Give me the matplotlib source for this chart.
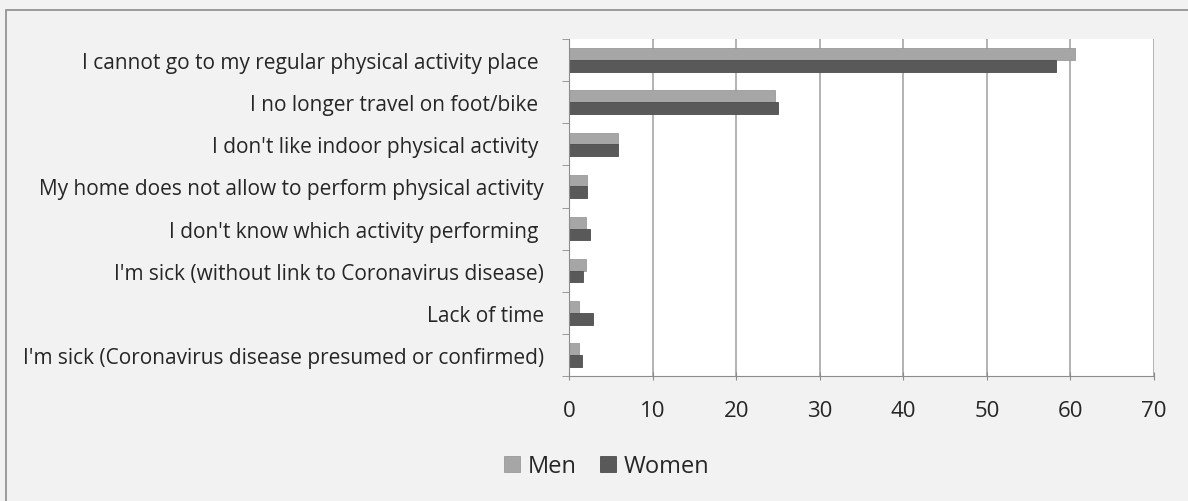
import matplotlib
matplotlib.use("Agg")
import matplotlib.pyplot as plt
import numpy as np
from matplotlib.patches import Rectangle

categories = [
    "I cannot go to my regular physical activity place ",
    "I no longer travel on foot/bike ",
    "I don't like indoor physical activity ",
    "My home does not allow to perform physical activity",
    "I don't know which activity performing ",
    "I'm sick (without link to Coronavirus disease)",
    "Lack of time",
    "I'm sick (Coronavirus disease presumed or confirmed)",
]
men = [60.6, 24.7, 5.9, 2.2, 2.0, 2.05, 1.25, 1.25]
women = [58.3, 25.0, 5.9, 2.2, 2.5, 1.7, 2.9, 1.6]
xticks = [0, 10, 20, 30, 40, 50, 60, 70]

plt.rcParams['font.family'] = ['Open Sans', 'DejaVu Sans']

fig = plt.figure(figsize=(11.88, 5.02), dpi=100)
fig.patch.set_facecolor('#f2f2f2')
fig.patches.append(Rectangle((6/1188, -0.05), 1.2, 1 - 11/502 + 0.05,
                             transform=fig.transFigure, fill=False,
                             edgecolor='#8c8c8c', linewidth=1.2))

ax = fig.add_axes([569/1188, 1 - 377/502, (1154 - 569)/1188, (377 - 40)/502])
ax.set_facecolor('white')

n = len(categories)
y = np.arange(n)
h = 0.28
ax.barh(y - h/2, men, height=h, color='#a6a6a6', edgecolor='#9a9a9a', linewidth=0.6, label='Men', zorder=3)
ax.barh(y + h/2, women, height=h, color='#595959', edgecolor='#4d4d4d', linewidth=0.6, label='Women', zorder=3)

ax.set_ylim(n - 0.5, -0.5)
ax.set_xlim(0, 70)
ax.set_xticks(xticks)
ax.set_xticklabels([str(t) for t in xticks], fontsize=16, color='#262626')
ax.set_yticks(y)
ax.set_yticklabels(categories, fontsize=15, color='#262626')
ax.set_yticks(np.arange(n + 1) - 0.5, minor=True)
ax.tick_params(axis='y', which='major', length=0, pad=18)
ax.tick_params(axis='y', which='minor', length=5, color='#8c8c8c', direction='out')
ax.tick_params(axis='x', length=6, color='#8c8c8c', direction='inout', pad=14)

ax.grid(axis='x', color='#a6a6a6', linewidth=1.2, zorder=0)
for s in ['top', 'right']:
    ax.spines[s].set_visible(False)
ax.spines['left'].set_color('#8c8c8c')
ax.spines['bottom'].set_color('#8c8c8c')
ax.spines['left'].set_zorder(4)

leg = fig.legend(loc='center', bbox_to_anchor=(607/1188, 1 - 467/502), ncol=2,
                 frameon=False, fontsize=17, handlelength=0.65, handleheight=0.65,
                 handletextpad=0.35, columnspacing=1.0)
for t in leg.get_texts():
    t.set_color('#262626')

fig.savefig('out.png', dpi=100, facecolor=fig.get_facecolor())
